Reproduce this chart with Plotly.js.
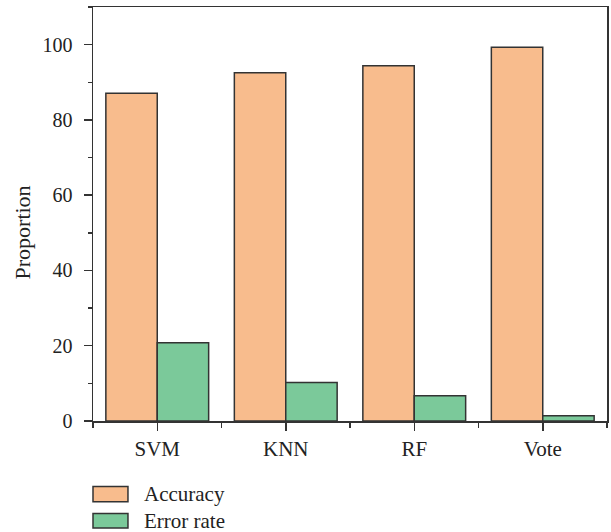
<!DOCTYPE html>
<html>
<head>
<meta charset="utf-8">
<script src="https://cdn.plot.ly/plotly-3.0.1.min.js"></script>
<style>
  html, body { margin: 0; padding: 0; background: #fff; }
  #chart { width: 611px; height: 532px; }
</style>
</head>
<body>
<div id="chart"></div>
<script>
// Classifier comparison: accuracy and error rate per model
const categories = ["SVM", "KNN", "RF", "Vote"];
const accuracy = [87.1, 92.5, 94.4, 99.3];
const errorRate = [20.8, 10.2, 6.7, 1.4];
const seriesNames = ["Accuracy", "Error rate"];
const seriesColors = ["#F8BC8D", "#7BC99A"];

const W = 611, H = 532;
const M = { l: 93, r: 3.5, t: 7, b: 110.7 };
const plotW = W - M.l - M.r;
const plotH = H - M.t - M.b;
const serif = "Liberation Serif, Times New Roman, serif";
const ink = "#333333";

const xPos = categories.map((_, i) => i);

function barTrace(name, values, color) {
  return {
    type: "bar",
    name: name,
    x: xPos,
    y: values,
    marker: { color: color, line: { color: ink, width: 1.5 } },
    hoverinfo: "x+y"
  };
}

const data = [
  barTrace(seriesNames[0], accuracy, seriesColors[0]),
  barTrace(seriesNames[1], errorRate, seriesColors[1])
];

// pixel position (from page top/left) -> paper fraction
const px = (x) => (x - M.l) / plotW;
const py = (y) => (H - M.b - y) / plotH;

// legend drawn as wide swatches with labels below the axis
const legendRows = [
  { top: 486.8, bottom: 502.0 },
  { top: 513.9, bottom: 528.5 }
];
const shapes = [];
const annotations = [];
seriesNames.forEach((name, i) => {
  const row = legendRows[i];
  shapes.push({
    type: "rect", xref: "paper", yref: "paper",
    x0: px(93), x1: px(128),
    y0: py(row.bottom), y1: py(row.top),
    fillcolor: seriesColors[i],
    line: { color: ink, width: 1.5 }
  });
  annotations.push({
    xref: "paper", yref: "paper",
    x: px(142), y: py((row.top + row.bottom) / 2),
    xanchor: "left", yanchor: "middle",
    text: name, showarrow: false,
    font: { family: serif, size: 21, color: "#222" }
  });
});

// vertical axis title, centred on the 0–100 span
annotations.push({
  xref: "paper", yref: "y",
  x: px(22.6), y: 50,
  xanchor: "center", yanchor: "middle",
  textangle: -90,
  text: "Proportion", showarrow: false,
  font: { family: serif, size: 22, color: "#222" }
});

const layout = {
  width: W, height: H,
  margin: M,
  paper_bgcolor: "#fff",
  plot_bgcolor: "#fff",
  showlegend: false,
  barmode: "group",
  bargap: 0.2,
  bargroupgap: 0,
  font: { family: serif, size: 19, color: "#222" },
  xaxis: {
    range: [-0.5, categories.length - 0.5],
    tickvals: xPos,
    ticktext: categories,
    ticks: "outside", ticklen: 8, tickwidth: 1.5, tickcolor: ink,
    minor: { tick0: 0.5, dtick: 1, ticks: "outside", ticklen: 5, tickwidth: 1.5, tickcolor: ink },
    ticklabelstandoff: 0,
    showline: true, linecolor: ink, linewidth: 1.5, mirror: true,
    showgrid: false, zeroline: false,
    tickfont: { family: serif, size: 21, color: "#222" },
    fixedrange: true
  },
  yaxis: {
    range: [0, 110],
    tick0: 0, dtick: 20,
    ticks: "outside", ticklen: 8, tickwidth: 1.5, tickcolor: ink,
    minor: { dtick: 10, ticks: "outside", ticklen: 4, tickwidth: 1.5, tickcolor: ink },
    ticklabelstandoff: 7,
    showline: true, linecolor: ink, linewidth: 1.5, mirror: true,
    showgrid: false, zeroline: false,
    tickfont: { family: serif, size: 20, color: "#222" },
    fixedrange: true
  },
  shapes: shapes,
  annotations: annotations
};

Plotly.newPlot("chart", data, layout, { displayModeBar: false, staticPlot: true });
</script>
</body>
</html>
